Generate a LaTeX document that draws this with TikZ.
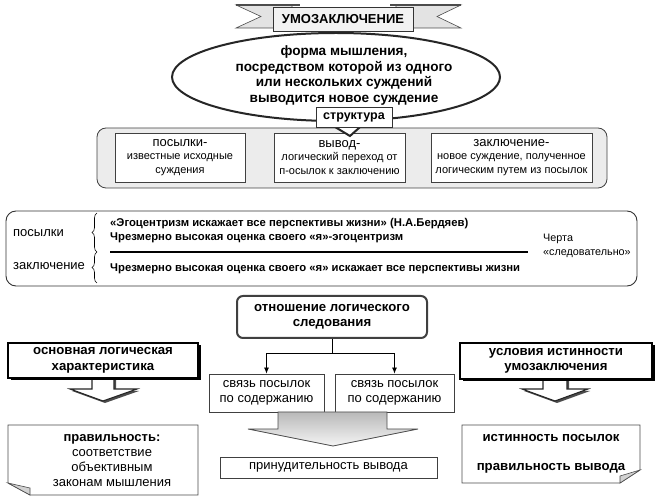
\documentclass[tikz,border=0pt]{standalone}
\usepackage{fontspec}
\setmainfont{Liberation Sans}
\usetikzlibrary{shapes.callouts,shapes.geometric,arrows.meta,decorations.pathreplacing,shadows,calc}
\begin{document}
\begin{tikzpicture}[x=1pt,y=-1pt,
  txt/.style={inner sep=0pt, align=center},
  big/.style={font=\fontsize{13}{15}\selectfont},
  bigb/.style={font=\fontsize{13.2}{15.5}\selectfont\bfseries},
  small/.style={font=\fontsize{11}{13.5}\selectfont},
  midb/.style={font=\fontsize{11.3}{13}\selectfont\bfseries},
  thinbox/.style={draw=black!75, line width=0.8pt, fill=white, align=center, inner sep=0pt},
  shadowbox/.style={draw=black, line width=1.6pt, fill=white, align=center, inner sep=0pt,
     drop shadow={shadow xshift=2.5pt, shadow yshift=-2.5pt, fill=black, opacity=1}},
  hollowarrow/.style={draw=black!85, line width=1.1pt, fill=white,
     drop shadow={shadow xshift=2pt, shadow yshift=-2pt, fill=black!70, opacity=1}},
  arr/.style={-{Latex[length=6pt,width=5pt]}, line width=0.8pt},
  notebox/.style={draw=black!70, line width=0.8pt, fill=white},
  fold/.style={draw=black!70, line width=0.6pt, fill=gray!35},
]
\useasboundingbox (0,0) rectangle (659,502);

% ---------- structure block ----------
\node[draw=black!75, line width=0.8pt, fill=gray!15, rounded corners=9pt,
      minimum width=510pt, minimum height=60pt] (structblock) at (352,158) {};
\node[thinbox, minimum width=130pt, minimum height=49pt, small] (b1) at (180,157.5)
  {{\fontsize{13}{14}\selectfont посылки-}\\известные исходные\\суждения};
\node[thinbox, minimum width=131pt, minimum height=49pt, small] (b2) at (339.5,157.5)
  {{\fontsize{13}{14}\selectfont вывод-}\\логический переход от\\п-осылок к заключению};
\node[thinbox, minimum width=161pt, minimum height=49pt, small] (b3) at (511.5,157.5)
  {{\fontsize{13}{14}\selectfont заключение-}\\новое суждение, полученное\\логическим путем из посылок};

% ---------- definition ellipse ----------
\node[ellipse callout, draw=black!85, line width=2pt, fill=white,
      minimum width=328pt, minimum height=88pt, inner sep=0pt,
      callout absolute pointer={(350,136)}] (def) at (336,77) {};
\node[txt, font=\fontsize{13.6}{15.7}\selectfont\bfseries] (deftext) at (344,75.5)
  {форма мышления,\\посредством которой из одного\\или нескольких суждений\\выводится новое суждение};
\node[draw=black!80, line width=0.8pt, fill=white, minimum width=76pt, minimum height=20pt,
      inner sep=0pt, font=\fontsize{12.5}{14}\selectfont\bfseries] (struct) at (354,117.5) {структура};

% ---------- banner ----------
\path[fill=gray!22, draw=black!70, line width=0.6pt]
  (236,5) -- (292,5) -- (292,28) -- (236,28) -- (261,16.5) -- cycle;
\path[fill=gray!22, draw=black!70, line width=0.6pt]
  (396,5) -- (461,5) -- (437,16.5) -- (461,28) -- (396,28) -- cycle;
\draw[line width=1.8pt, black!70] (236,5) -- (300,5);
\draw[line width=1.8pt, black!70] (390,5) -- (461,5);
\node[draw=black!80, line width=0.9pt, fill=gray!10, minimum width=140pt, minimum height=24pt,
      inner sep=0pt, font=\fontsize{13}{15}\selectfont\bfseries] (title) at (343,19.5) {УМОЗАКЛЮЧЕНИЕ};

% ---------- example block ----------
\node[draw=black!80, line width=0.9pt, rounded corners=10pt,
      minimum width=631pt, minimum height=75pt] (example) at (321.5,248.5) {};
\node[txt, big, anchor=west] (pos) at (13,233) {посылки};
\node[txt, big, anchor=west] (zak) at (13,266) {заключение};
\draw[decorate, decoration={brace, amplitude=5pt}, line width=0.6pt] (97,252) -- (97,213);
\draw[decorate, decoration={brace, amplitude=5pt}, line width=0.6pt] (97,283) -- (97,252);
\node[txt, midb, anchor=west] (l1) at (110,224) {«Эгоцентризм искажает все перспективы жизни» (Н.А.Бердяев)};
\node[txt, midb, anchor=west] (l2) at (110,237.5) {Чрезмерно высокая оценка своего «я»-эгоцентризм};
\coordinate (ls) at (110,252);
\coordinate (le) at (528,252);
\draw[line width=1.8pt] (ls) -- (le);
\node[txt, midb, anchor=west] (l3) at (110,269) {Чрезмерно высокая оценка своего «я» искажает все перспективы жизни};
\node[txt, anchor=west, align=left, font=\fontsize{10.8}{14}\selectfont] (cherta) at (543,246)
  {Черта\\«следовательно»};

% ---------- relation block ----------
\node[draw=black!75, line width=2pt, rounded corners=6pt, fill=white,
      minimum width=190pt, minimum height=42pt, inner sep=0pt, align=center, bigb] (rel) at (332,317)
  {отношение логического\\следования};
\node[thinbox, minimum width=115pt, minimum height=38pt, big] (sv1) at (266.5,393)
  {связь посылок\\по содержанию};
\node[thinbox, minimum width=119pt, minimum height=38pt, big] (sv2) at (394.5,393)
  {связь посылок\\по содержанию};
\coordinate (j) at (332,353);
\draw[line width=0.8pt] (rel.south) -- (j);
\draw[arr] (j) -| (sv1.north);
\draw[arr] (j) -| (sv2.north);
\path[draw=black!70, line width=0.8pt, top color=gray!55, bottom color=gray!8]
  (278,412) -- (278,429) -- (248,429) -- (333,446) -- (418,429) -- (387,429) -- (387,412) -- cycle;
\node[thinbox, minimum width=217pt, minimum height=21pt, big] (prin) at (328.5,467.5)
  {принудительность вывода};

% ---------- left column ----------
\path[hollowarrow] (92,376) -- (92,389) -- (70,389) -- (103,401) -- (137,389) -- (114,389) -- (114,376);
\node[shadowbox, minimum width=190pt, minimum height=35pt, bigb] (olh) at (103,360.5)
  {основная логическая\\характеристика};
\path[notebox] (8,425) -- (198,425) -- (198,495) -- (30,495) -- (8,483) -- cycle;
\path[fold] (8,483) -- (30,488) -- (30,495) -- cycle;
\node[txt, big] (prav) at (112,460.5)
  {\textbf{правильность:}\\соответствие\\объективным\\законам мышления};

% ---------- right column ----------
\path[hollowarrow] (543,377) -- (543,389) -- (522,389) -- (555,401) -- (588,389) -- (567,389) -- (567,377);
\node[shadowbox, minimum width=192pt, minimum height=36pt, bigb] (usl) at (556,361)
  {условия истинности\\умозаключения};
\path[notebox] (462,425) -- (640,425) -- (640,470) -- (620,483) -- (462,483) -- cycle;
\path[fold] (640,470) -- (620,476) -- (620,483) -- cycle;
\node[txt, bigb] (ist) at (551,438) {истинность посылок};
\node[txt, bigb] (pv) at (551,468) {правильность вывода};
\end{tikzpicture}
\end{document}
